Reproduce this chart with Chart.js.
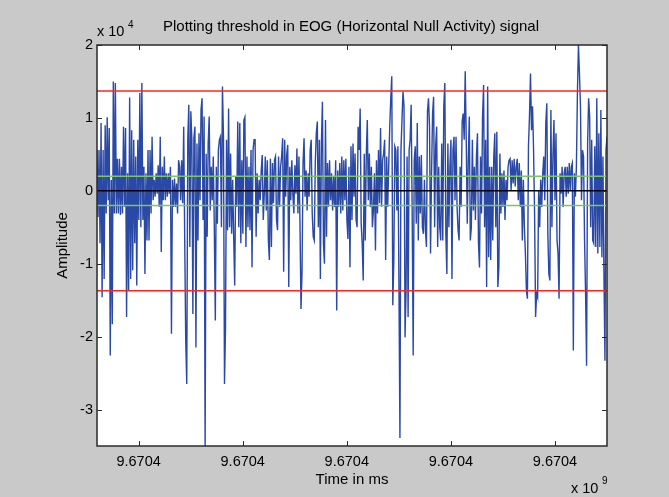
<!DOCTYPE html>
<html>
<head>
<meta charset="utf-8">
<script src="https://cdn.jsdelivr.net/npm/chart.js@4.4.1/dist/chart.umd.min.js"></script>
<style>
  html, body { margin: 0; padding: 0; background: #c9c9c9; }
  canvas { display: block; }
</style>
</head>
<body>
<canvas id="eog" width="669" height="497"></canvas>
<script>
// EOG horizontal null activity, amplitude in units of 1e4
const amplitude = [
  0.56,-0.36,0.56,-0.72,0.93,-1.46,0.56,-1.21,0.90,-0.31,1.01,-0.13,0.86,-2.26,0.15,-1.83,1.50,-0.31,1.48,-0.31,
  0.44,-0.31,0.44,-0.33,0.33,-0.31,0.88,-0.22,0.86,-1.73,0.24,-1.37,1.28,-1.21,0.83,-1.09,0.70,-0.72,0.47,-1.30,
  0.70,-0.40,1.34,-0.50,1.48,-0.40,0.33,-1.14,0.24,-0.68,0.56,-0.68,0.56,-0.31,0.74,-0.13,0.15,-0.08,0.24,-0.04,
  0.35,-0.22,0.74,-0.84,0.33,-0.13,0.47,-0.13,0.24,-0.08,0.24,-0.04,0.33,-1.96,0.15,-0.22,0.17,-0.22,0.10,-0.31,0.42,
  0.33,-0.13,0.42,-0.17,0.88,-0.68,-2.06,-2.65,0.70,1.18,-0.77,1.09,0.70,-1.69,0.72,0.88,-2.15,0.65,-0.68,0.79,
  -0.13,1.11,1.27,-0.40,1.02,-3.52,0.51,-0.63,0.65,1.02,-0.27,0.33,-0.13,0.47,-0.50,-1.78,0.33,-0.45,0.56,0.70,
  0.74,-0.50,1.43,0.72,-2.65,-1.87,0.70,-0.54,1.13,-0.50,0.51,-0.59,0.15,-0.63,-1.30,0.19,-0.22,0.95,-0.50,0.93,
  -0.72,0.42,-0.59,0.97,1.01,-0.77,0.47,-0.50,0.33,-0.54,0.56,-1.05,0.56,0.70,0.70,-0.63,0.24,-0.31,0.15,-0.13,0.28,
  0.49,-0.40,-0.04,0.47,-0.27,0.42,-0.68,-0.95,0.44,-0.77,0.38,-0.17,0.42,0.47,-0.40,-0.54,0.47,-0.22,0.33,0.47,
  0.72,-1.11,0.70,-0.08,0.49,0.63,-1.32,0.33,-0.13,0.42,-0.04,-0.31,0.35,-0.04,0.58,-0.31,0.47,-0.45,-1.62,-1.11,
  0.38,0.72,-0.08,0.28,-0.27,0.24,-0.08,0.56,0.70,-0.31,-0.63,-0.68,0.38,0.79,0.95,-0.50,0.70,-1.21,0.65,1.22,
  -0.72,-1.00,0.97,-0.63,0.38,-0.22,0.42,-0.13,0.24,-0.27,0.19,-0.22,0.42,-1.64,0.28,-0.22,0.38,-0.31,
  0.47,-0.27,0.42,-0.13,0.44,-0.40,-0.66,0.33,-1.05,0.61,-0.40,0.65,-0.08,0.51,-0.40,-0.50,0.88,0.56,1.13,-0.45,
  -0.72,-1.23,0.51,-0.68,0.49,0.97,-0.13,0.51,-0.22,0.33,-0.50,-0.27,0.24,-0.82,0.42,-0.31,0.56,-0.17,0.86,-0.22,
  0.42,0.51,0.70,-0.95,0.47,-0.22,0.33,0.88,1.27,1.57,-1.57,-0.95,0.61,0.56,-0.27,0.61,-1.23,-3.39,0.56,0.97,
  1.36,1.16,-2.01,-1.37,0.47,-1.73,0.56,0.70,1.18,-0.31,-2.26,0.42,0.61,-0.45,0.93,-0.68,0.47,-0.31,0.49,-0.50,
  -0.59,0.15,-0.54,-0.77,1.09,1.27,
  0.88,-0.86,0.24,1.06,1.29,-0.50,0.61,0.88,-0.77,0.33,-0.50,-0.68,0.65,-0.68,1.16,1.48,-0.59,-1.14,0.65,-0.50,
  0.33,0.70,-1.21,0.56,0.74,-0.13,0.74,-0.22,-0.54,-0.68,0.33,-0.22,0.95,1.06,0.70,1.64,0.70,-0.45,0.42,1.02,
  -0.68,-0.50,0.70,-0.27,0.33,-0.40,0.47,0.79,-0.72,-1.05,0.47,-0.31,1.02,1.45,-0.50,0.70,-1.32,1.43,-0.91,0.33,
  -0.95,0.33,-0.68,0.47,0.79,-0.50,0.81,-1.32,-1.05,0.51,-0.31,0.24,-0.22,0.28,-0.40,0.15,-0.13,0.33,0.42,0.44,
  0.01,0.42,0.10,0.44,0.06,0.33,
  0.44,-0.13,0.38,-0.22,0.28,-0.68,0.15,-0.50,-0.86,-1.37,-1.48,0.61,1.02,1.61,0.83,1.16,0.56,-0.31,-1.73,-1.41,
  -1.46,0.01,-0.50,0.15,-0.22,0.24,0.47,-0.13,0.93,1.20,-0.59,-1.14,-1.23,1.11,-0.50,0.47,0.97,-0.13,0.79,-0.68,
  -0.86,-1.48,0.24,-0.04,0.33,-0.22,0.24,0.33,-0.08,0.33,-0.04,0.38,0.01,0.33,0.38,-2.19,0.24,-0.08,0.33,1.34,
  2.00,1.61,1.16,-0.13,0.56,0.47,-0.68,-1.41,-2.40,0.65,1.27,1.02,-0.50,0.70,-0.68,-0.72,0.61,-0.77,1.27,-0.86,
  0.79,-0.77,1.11,-0.91,0.47,-1.14,-2.33,0.56,0.74
];

// thresholds (x 1e4)
const redThreshold = [1.37, -1.37];
const greenThreshold = [0.2, -0.2];
const baseline = [0];

// time axis: ms from the first sample, ticks every 100 ms
const spanMs = 490;
const xTicks = [40, 140, 240, 340, 440];
const xTickLabels = ['9.6704', '9.6704', '9.6704', '9.6704', '9.6704'];
const yTicks = [-3, -2, -1, 0, 1, 2];
const yTickLabels = ['-3', '-2', '-1', '0', '1', '2'];

const title = 'Plotting threshold in EOG (Horizontal Null Activity) signal';
const FONT = '"Liberation Sans", Arial, sans-serif';

const signal = amplitude.map((v, i) => ({ x: i * spanMs / (amplitude.length - 1), y: v }));
const hline = (v, color) => ({
  data: [{ x: 0, y: v }, { x: spanMs, y: v }],
  borderColor: color,
  borderWidth: 1.5,
  pointRadius: 0,
  order: 0
});

const datasets = [
  ...redThreshold.map(v => hline(v, '#ff2424')),
  ...greenThreshold.map(v => hline(v, '#7cc85a')),
  ...baseline.map(v => hline(v, '#000000')),
  {
    data: signal,
    borderColor: 'rgb(42,72,166)',
    borderWidth: 1.4,
    pointRadius: 0,
    tension: 0,
    order: 1
  }
];

// matlab-ish figure: grey background, boxed axes, inward ticks
const frame = {
  id: 'frame',
  beforeDraw(chart) {
    const { ctx, chartArea: a } = chart;
    ctx.save();
    ctx.fillStyle = '#c9c9c9';
    ctx.fillRect(0, 0, chart.width, chart.height);
    ctx.fillStyle = '#ffffff';
    ctx.fillRect(a.left, a.top, a.right - a.left, a.bottom - a.top);
    ctx.restore();
  },
  afterDraw(chart) {
    const { ctx, chartArea: a, scales: { x, y } } = chart;
    ctx.save();
    ctx.strokeStyle = '#2a2a2a';
    ctx.lineWidth = 1.5;
    ctx.strokeRect(a.left, a.top, a.right - a.left, a.bottom - a.top);

    ctx.lineWidth = 1;
    ctx.beginPath();
    xTicks.forEach(t => {
      const px = Math.round(x.getPixelForValue(t)) + 0.5;
      ctx.moveTo(px, a.bottom); ctx.lineTo(px, a.bottom - 5);
      ctx.moveTo(px, a.top); ctx.lineTo(px, a.top + 5);
    });
    yTicks.forEach(t => {
      const py = Math.round(y.getPixelForValue(t)) + 0.5;
      ctx.moveTo(a.left, py); ctx.lineTo(a.left + 5, py);
      ctx.moveTo(a.right, py); ctx.lineTo(a.right - 5, py);
    });
    ctx.stroke();

    ctx.fillStyle = '#000';
    ctx.font = '14.5px ' + FONT;
    ctx.textBaseline = 'middle';
    ctx.textAlign = 'right';
    yTicks.forEach((t, i) => ctx.fillText(yTickLabels[i], a.left - 4, y.getPixelForValue(t)));
    ctx.textAlign = 'center';
    xTicks.forEach((t, i) => ctx.fillText(xTickLabels[i], x.getPixelForValue(t), a.bottom + 16));

    ctx.font = '15px ' + FONT;
    ctx.fillText(title, 351, 27);
    ctx.fillText('Time in ms', (a.left + a.right) / 2, a.bottom + 34);

    // exponent labels
    ctx.textAlign = 'left';
    ctx.font = '14.5px ' + FONT;
    ctx.fillText('x 10', a.left, 32);
    ctx.fillText('x 10', 571, 489);
    ctx.font = '10px ' + FONT;
    ctx.fillText('4', a.left + 31, 25);
    ctx.fillText('9', 602, 481);

    ctx.font = '15px ' + FONT;
    ctx.translate(63, (a.top + a.bottom) / 2);
    ctx.rotate(-Math.PI / 2);
    ctx.textAlign = 'center';
    ctx.fillText('Amplitude', 0, 0);
    ctx.restore();
  }
};

new Chart(document.getElementById('eog'), {
  type: 'line',
  data: { datasets },
  options: {
    responsive: false,
    animation: false,
    devicePixelRatio: 1,
    layout: { padding: { left: 97, right: 62, top: 45, bottom: 51 } },
    scales: {
      x: { type: 'linear', min: 0, max: spanMs, display: false },
      y: { type: 'linear', min: -3.5, max: 2, display: false }
    },
    plugins: {
      legend: { display: false },
      tooltip: { enabled: false },
      title: { display: false }
    }
  },
  plugins: [frame]
});
</script>
</body>
</html>
